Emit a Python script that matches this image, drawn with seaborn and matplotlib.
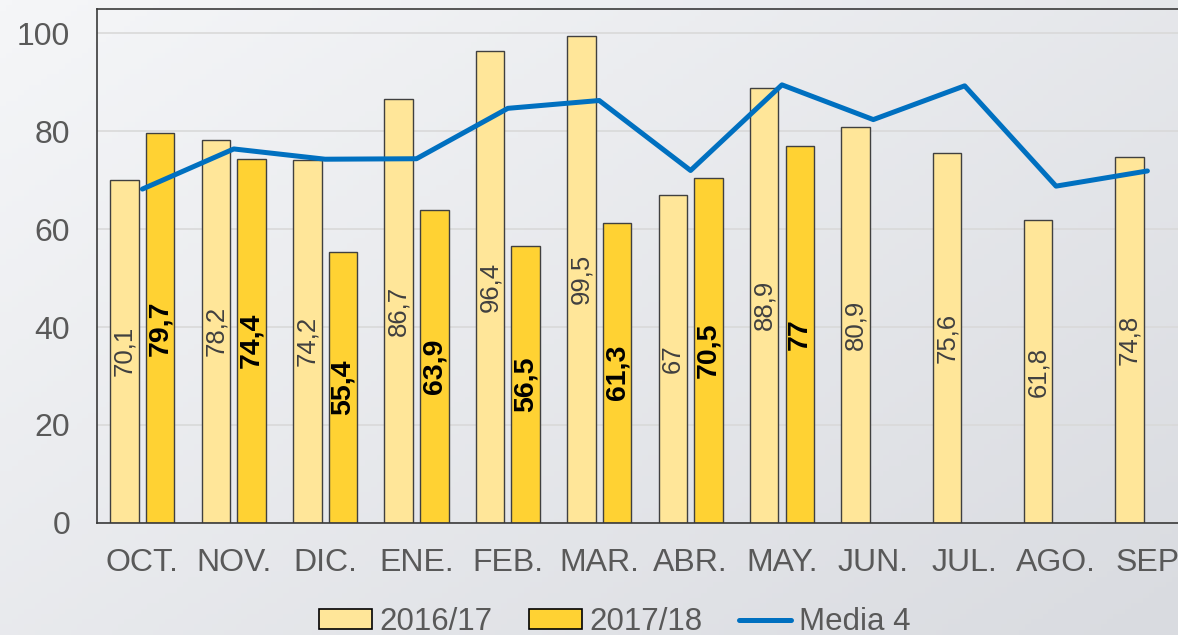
import matplotlib
matplotlib.use("Agg")

import matplotlib.pyplot as plt
import matplotlib.patches as mpatches
from matplotlib.lines import Line2D
from matplotlib.colors import LinearSegmentedColormap
import numpy as np
import pandas as pd
import seaborn as sns

months = ["OCT.", "NOV.", "DIC.", "ENE.", "FEB.", "MAR.", "ABR.", "MAY.", "JUN.", "JUL.", "AGO.", "SEP"]
season_a = [70.1, 78.2, 74.2, 86.7, 96.4, 99.5, 67, 88.9, 80.9, 75.6, 61.8, 74.8]
season_b = [79.7, 74.4, 55.4, 63.9, 56.5, 61.3, 70.5, 77]
media_4 = [68.2, 76.4, 74.3, 74.4, 84.7, 86.3, 72.0, 89.5, 82.4, 89.3, 68.8, 71.9]
series = ["2016/17", "2017/18"]

light = "#FFE699"
gold = "#FFD233"
blue = "#0070C0"
edge = "#404040"
tick_grey = "#595959"

sns.set_theme(style="white")
plt.rcParams["font.family"] = ["Liberation Sans", "DejaVu Sans"]

df = pd.concat([
    pd.DataFrame({"mes": months, "valor": season_a, "serie": series[0]}),
    pd.DataFrame({"mes": months[:len(season_b)], "valor": season_b, "serie": series[1]}),
], ignore_index=True)

fig = plt.figure(figsize=(11.78, 6.35), dpi=100)

# gradient background
bg = fig.add_axes([0, 0, 1, 1], zorder=-10)
cmap = LinearSegmentedColormap.from_list("bg", ["#F5F6F8", "#D9DBE0"])
gx, gy = np.meshgrid(np.linspace(0, 1, 200), np.linspace(0, 1, 120))
bg.imshow(0.55 * gx + 0.45 * gy, cmap=cmap, aspect="auto", extent=[0, 1, 0, 1], origin="upper")
bg.axis("off")

ax = fig.add_axes([0.0821, 0.1768, 0.9307, 0.809])
ax.set_facecolor("none")

sns.barplot(
    data=df, x="mes", y="valor", hue="serie", order=months, hue_order=series,
    palette=[light, gold], width=0.78, gap=0.2, edgecolor=edge, linewidth=1.0,
    saturation=1, errorbar=None, legend=False, ax=ax, zorder=2,
)

fmt = lambda v: f"{v:g}".replace(".", ",")
ax.bar_label(ax.containers[0], fmt=fmt, label_type="center", rotation=90,
             fontsize=18.5, color=edge)
ax.bar_label(ax.containers[1], fmt=fmt, label_type="center", rotation=90,
             fontsize=20.5, color="black", fontweight="bold")

sns.lineplot(x=months, y=media_4, sort=False, color=blue, linewidth=3.6,
             ax=ax, zorder=3)

ax.set_xlim(-0.5, len(months) - 0.5)
ax.set_ylim(0, 105)
ax.set_yticks([0, 20, 40, 60, 80, 100])
ax.yaxis.grid(True, color="#D9D9D9", linewidth=1.2, zorder=0)
ax.set_axisbelow(True)
ax.set_xlabel("")
ax.set_ylabel("")
ax.tick_params(axis="y", length=0, pad=19, labelsize=23, labelcolor=tick_grey)
ax.tick_params(axis="x", length=0, pad=18, labelsize=23, labelcolor=tick_grey)
for side in ["top", "left", "bottom"]:
    ax.spines[side].set_color("#3A3A3A")
    ax.spines[side].set_linewidth(1.2)
ax.spines["right"].set_visible(False)

handles = [
    mpatches.Patch(facecolor=light, edgecolor="black", linewidth=1.2),
    mpatches.Patch(facecolor=gold, edgecolor="black", linewidth=1.2),
    Line2D([0], [0], color=blue, linewidth=3.6),
]
fig.legend(handles, series + ["Media 4"], loc="center", bbox_to_anchor=(0.522, 0.02),
           ncol=3, frameon=False, fontsize=22.5, handlelength=1.68, handleheight=0.6,
           handletextpad=0.25, columnspacing=1.16, labelcolor=tick_grey)

fig.savefig("out.png", dpi=100)
